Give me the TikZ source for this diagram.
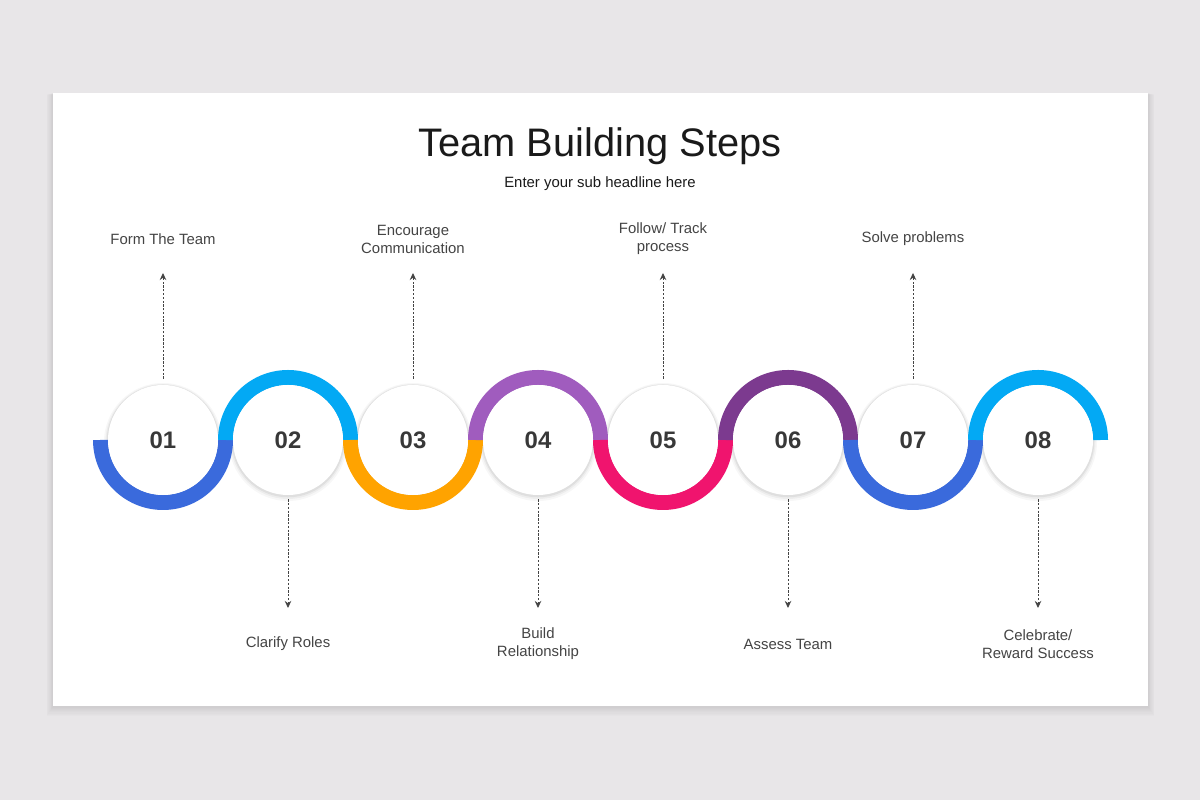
\documentclass[tikz,border=0pt]{standalone}
\usepackage{fontspec}
\setmainfont{Liberation Sans}
\usetikzlibrary{arrows.meta}

\definecolor{pagebg}{RGB}{232,230,232}
\definecolor{stepblue}{RGB}{58,106,220}
\definecolor{stepcyan}{RGB}{3,169,244}
\definecolor{steporange}{RGB}{255,163,0}
\definecolor{stepviolet}{RGB}{160,92,190}
\definecolor{steppink}{RGB}{240,20,110}
\definecolor{stepplum}{RGB}{124,58,143}
\definecolor{titletext}{RGB}{26,26,26}
\definecolor{labeltext}{RGB}{68,68,68}
\definecolor{numtext}{RGB}{56,56,56}

\begin{document}
\begin{tikzpicture}[x=0.025cm, y=0.025cm,
	stepcircle/.style={circle, fill=white, minimum size=2.75cm, inner sep=0pt, text=numtext, font=\fontsize{17}{20}\selectfont\bfseries},
	steplabel/.style={align=center, inner sep=0pt, text=labeltext, font=\fontsize{10.6}{12.8}\selectfont},
	stepring/.style={line width=0.375cm},
	dasharrow/.style={dash pattern=on 1.6pt off 1.1pt, line width=0.65pt, draw=labeltext, -{Stealth[length=5pt,width=4.6pt]}}]

	\def \cy{360};
	\def \rring{62.5};

	% page and card
	\fill[pagebg] (0,0) rectangle (1200,800);
	\useasboundingbox (0,0) rectangle (1200,800);
	\foreach \s in {1,...,8} \fill[black, opacity=0.012] (53-\s*0.8,93-\s*1.1) rectangle (1148+\s*0.8,707-\s*0.2);
	\fill[white] (53,94) rectangle (1148,707);

	\node[anchor=base, text=titletext, font=\fontsize{28.3}{34}\selectfont] (title) at (600,643) {Team Building Steps};
	\node[anchor=base, text=titletext, font=\fontsize{10.6}{12.8}\selectfont] (subtitle) at (600,612) {Enter your sub headline here};

	% shadows under the circles
	\foreach \n in {1,...,8} {
		\fill[black, opacity=0.03] (38+\n*125,358) circle (59);
		\fill[black, opacity=0.04] (38+\n*125,358.5) circle (57.5);
		\fill[black, opacity=0.06] (38+\n*125,359) circle (56.3);
	}

	% half rings
	\foreach \n/\col/\ea in {1/stepblue/360, 2/stepcyan/0, 3/steporange/360, 4/stepviolet/0,
		5/steppink/360, 6/stepplum/0, 7/stepblue/360, 8/stepcyan/0}
		\draw[stepring, \col] (38+\n*125-\rring,\cy) arc[start angle=180, end angle=\ea, radius=\rring];

	% circles
	\foreach \n in {1,...,8} \node[stepcircle] (s\n) at (38+\n*125,\cy) {0\n};

	% labels above
	\foreach \n/\txt in {1/{Form The Team}, 3/{Encourage\\Communication}, 5/{Follow/ Track\\process}, 7/{Solve problems}} {
		\node[steplabel] (l\n) at (38+\n*125,561) {\txt};
		\coordinate (a\n) at (38+\n*125,527);
		\draw[dasharrow] ([yshift=0.15cm]s\n.north) -- (a\n);
	}

	% labels below
	\foreach \n/\txt in {2/{Clarify Roles}, 4/{Build\\Relationship}, 6/{Assess Team}, 8/{Celebrate/\\Reward Success}} {
		\node[steplabel] (l\n) at (38+\n*125,156) {\txt};
		\coordinate (a\n) at (38+\n*125,192);
		\draw[dasharrow] ([yshift=-0.1cm]s\n.south) -- (a\n);
	}

\end{tikzpicture}
\end{document}
